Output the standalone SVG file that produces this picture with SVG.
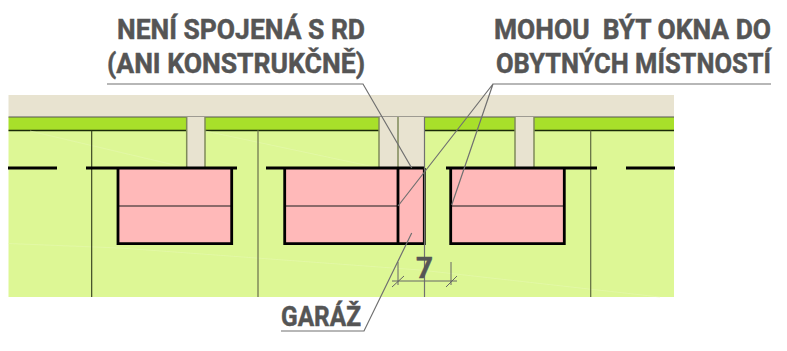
<svg xmlns="http://www.w3.org/2000/svg" width="787" height="351" viewBox="0 0 787 351">
<style>
.wall{fill:#e8e3d0}
.room{fill:#ffb9b9}
.b{stroke:#000;stroke-width:2.8;fill:none}
.thin{stroke:#2f3a1a;stroke-width:1.1;fill:none}
.olive{stroke:#7f8a5a;stroke-width:1.5;fill:none}
.lead{stroke:#707070;stroke-width:1.2;fill:none}
.mid{stroke:#665050;stroke-width:1.4;fill:none}
.t{font-family:"Roboto","Liberation Sans",sans-serif;font-weight:700;fill:#555;stroke:#555;stroke-width:0.5;font-size:28.5px}
</style>
<g id="site">
<rect x="8.5" y="95" width="665.5" height="22" class="wall"/>
<rect x="8.5" y="117" width="665.5" height="13.5" fill="#a8e02a"/>
<rect x="8.5" y="130.5" width="665.5" height="166.5" fill="#ddf795"/>
<path d="M8.5 117H674" stroke="#555" stroke-width="1.2" fill="none"/>
<path d="M8.5 130.5H186.7M205 130.5H379M425 130.5H515M534 130.5H674" stroke="#1a2a08" stroke-width="1.3" fill="none"/>
<path d="M8.5 243.5L120 248L420 270L660 297M30 131L187 168M205 131L379 168" stroke="#e6f8b0" stroke-width="0.6" fill="none"/>
</g>
<g id="piers">
<rect x="186.7" y="117" width="18.3" height="51" class="wall"/>
<rect x="379" y="117" width="46" height="51" class="wall"/>
<rect x="515" y="117" width="19" height="51" class="wall"/>
<path d="M186.7 117V168M205 117V168M379 117V168M398 117V168M515 117V168M534 117V168" class="olive"/>
</g>
<g id="grid">
<path d="M91.7 130.5V297" class="thin"/>
<path d="M258 130.5V297" class="olive"/>
<path d="M590.7 130.5V297" stroke="#5f6a40" stroke-width="1.2" fill="none"/>
</g>
<g id="house-1">
<rect x="118" y="168" width="113.7" height="75.7" class="room"/>
<path d="M118 206H231.7" class="mid"/>
<path d="M118 168V243.7H231.7V168" class="b"/>
</g>
<g id="house-2">
<rect x="284.7" y="168" width="139.6" height="75.7" class="room"/>
<path d="M284.7 206H398" class="mid"/>
<path d="M284.7 168V243.7H424.3V168M398 168V243.7" class="b"/>
</g>
<g id="house-3">
<rect x="450.7" y="168" width="113.6" height="75.7" class="room"/>
<path d="M450.7 206H564.3" class="mid"/>
<path d="M450.7 168V243.7H564.3V168" class="b"/>
</g>
<g id="walls">
<path d="M8 168H57M86 168H237M266 168H425M446 168H597M626 168H675" class="b"/>
</g>
<g id="connectors">
<path d="M424.5 117V297" class="lead"/>
<path d="M107 84H363L411.7 168" class="lead"/>
<path d="M771 84H493L398 206M493 84L451.7 205" class="lead"/>
<path d="M281 331H364L411.7 233" class="lead"/>
<path d="M398 262V285M451 262V285M392 281H457M392 287L404 276M446 287L457 276" stroke="#666" stroke-width="1" fill="none"/>
</g>
<g id="labels">
<text class="t" transform="translate(117 39) scale(.85 1)" textLength="291.8" lengthAdjust="spacingAndGlyphs">NENÍ SPOJENÁ S RD</text>
<text class="t" transform="translate(107 73) scale(.85 1)" textLength="303.5" lengthAdjust="spacingAndGlyphs">(ANI KONSTRUKČNĚ)</text>
<text class="t" transform="translate(494 39) scale(.85 1)" textLength="325.9" lengthAdjust="spacingAndGlyphs" xml:space="preserve">MOHOU  BÝT OKNA DO</text>
<text class="t" transform="translate(496 73) scale(.85 1)" textLength="323.5" lengthAdjust="spacingAndGlyphs">OBYTNÝCH MÍSTNOSTÍ</text>
<text class="t" transform="translate(281 326) scale(.85 1)" textLength="94.1" lengthAdjust="spacingAndGlyphs">GARÁŽ</text>
<text class="t" x="416" y="278" style="font-size:30px" textLength="17" lengthAdjust="spacingAndGlyphs">7</text>
</g>
</svg>
